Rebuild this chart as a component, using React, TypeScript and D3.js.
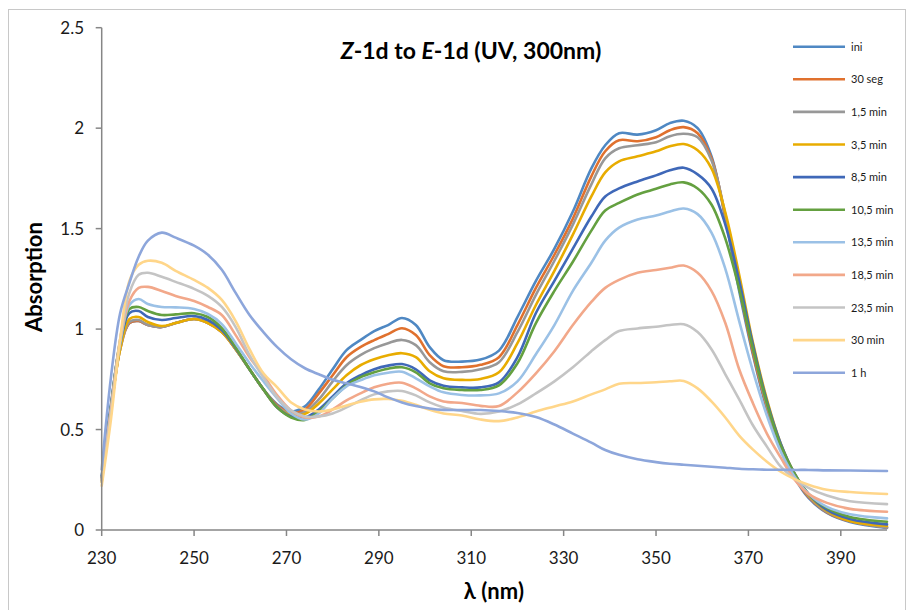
import React from "react";
import * as d3 from "d3";

const wavelengths = [230, 232, 234, 236, 238, 240, 243, 246, 250, 253, 256, 259, 262, 265, 268, 271, 274, 277, 280, 283, 286, 289, 292, 295, 298, 301, 304, 308, 312, 316, 320, 324, 328, 332, 336, 339, 342, 346, 350, 353, 356, 359, 362, 365, 368, 371, 374, 377, 380, 383, 387, 392, 400];

const seriesNames = ["ini", "30 seg", "1,5 min", "3,5 min", "8,5 min", "10,5 min", "13,5 min", "18,5 min", "23,5 min", "30 min", "1 h"];

const sIni = [0.27, 0.62, 0.92, 1.03, 1.04, 1.02, 1.01, 1.03, 1.05, 1.035, 0.99, 0.90, 0.80, 0.70, 0.625, 0.59, 0.615, 0.70, 0.80, 0.895, 0.945, 0.99, 1.02, 1.055, 1.02, 0.91, 0.845, 0.838, 0.848, 0.893, 1.06, 1.24, 1.40, 1.585, 1.80, 1.915, 1.975, 1.968, 1.99, 2.025, 2.037, 2.0, 1.86, 1.55, 1.19, 0.87, 0.60, 0.40, 0.26, 0.16, 0.085, 0.04, 0.01];
const s30seg = [0.25, 0.60, 0.90, 1.03, 1.04, 1.02, 1.01, 1.03, 1.05, 1.03, 0.985, 0.90, 0.80, 0.70, 0.62, 0.582, 0.60, 0.68, 0.77, 0.86, 0.91, 0.945, 0.975, 1.004, 0.97, 0.87, 0.815, 0.81, 0.822, 0.86, 1.02, 1.205, 1.37, 1.55, 1.76, 1.885, 1.94, 1.935, 1.955, 1.99, 2.005, 1.975, 1.85, 1.56, 1.21, 0.88, 0.61, 0.41, 0.265, 0.165, 0.088, 0.043, 0.013];
const s1_5 = [0.25, 0.60, 0.90, 1.035, 1.045, 1.02, 1.01, 1.03, 1.05, 1.03, 0.985, 0.90, 0.80, 0.70, 0.615, 0.577, 0.588, 0.65, 0.74, 0.82, 0.87, 0.905, 0.93, 0.946, 0.92, 0.835, 0.79, 0.787, 0.80, 0.835, 0.985, 1.17, 1.34, 1.52, 1.72, 1.85, 1.90, 1.915, 1.93, 1.96, 1.972, 1.955, 1.84, 1.57, 1.23, 0.90, 0.62, 0.415, 0.27, 0.17, 0.09, 0.045, 0.013];
const s3_5 = [0.24, 0.60, 0.90, 1.05, 1.06, 1.035, 1.015, 1.03, 1.05, 1.03, 0.985, 0.90, 0.80, 0.70, 0.61, 0.572, 0.578, 0.63, 0.70, 0.77, 0.82, 0.85, 0.87, 0.88, 0.86, 0.79, 0.755, 0.747, 0.752, 0.785, 0.93, 1.12, 1.29, 1.47, 1.66, 1.78, 1.835, 1.86, 1.885, 1.91, 1.921, 1.89, 1.80, 1.58, 1.27, 0.93, 0.65, 0.43, 0.28, 0.175, 0.095, 0.045, 0.02];
const s8_5 = [0.26, 0.62, 0.93, 1.08, 1.09, 1.06, 1.045, 1.055, 1.065, 1.045, 0.995, 0.905, 0.80, 0.70, 0.61, 0.565, 0.56, 0.60, 0.665, 0.73, 0.77, 0.80, 0.818, 0.826, 0.80, 0.745, 0.718, 0.71, 0.71, 0.735, 0.86, 1.08, 1.24, 1.40, 1.56, 1.66, 1.70, 1.735, 1.765, 1.79, 1.803, 1.77, 1.70, 1.52, 1.24, 0.92, 0.64, 0.43, 0.28, 0.18, 0.10, 0.055, 0.028];
const s10_5 = [0.25, 0.61, 0.94, 1.10, 1.11, 1.09, 1.07, 1.073, 1.079, 1.06, 1.005, 0.91, 0.80, 0.70, 0.61, 0.56, 0.548, 0.59, 0.655, 0.72, 0.76, 0.785, 0.803, 0.81, 0.785, 0.73, 0.705, 0.697, 0.697, 0.72, 0.83, 1.03, 1.19, 1.335, 1.49, 1.59, 1.628, 1.67, 1.698, 1.72, 1.73, 1.70, 1.62, 1.45, 1.20, 0.90, 0.63, 0.42, 0.28, 0.18, 0.11, 0.065, 0.041];
const s13_5 = [0.25, 0.60, 0.93, 1.12, 1.15, 1.125, 1.11, 1.108, 1.10, 1.075, 1.025, 0.93, 0.83, 0.74, 0.655, 0.58, 0.55, 0.58, 0.655, 0.715, 0.745, 0.77, 0.783, 0.788, 0.755, 0.715, 0.685, 0.672, 0.67, 0.68, 0.74, 0.875, 1.02, 1.19, 1.33, 1.44, 1.505, 1.545, 1.565, 1.585, 1.60, 1.572, 1.48, 1.30, 1.04, 0.79, 0.57, 0.39, 0.265, 0.18, 0.115, 0.078, 0.058];
const s18_5 = [0.25, 0.60, 0.95, 1.14, 1.205, 1.21, 1.19, 1.165, 1.14, 1.11, 1.07, 0.97, 0.86, 0.77, 0.67, 0.595, 0.56, 0.565, 0.60, 0.645, 0.68, 0.71, 0.728, 0.733, 0.705, 0.665, 0.64, 0.632, 0.618, 0.617, 0.685, 0.78, 0.89, 1.02, 1.135, 1.205, 1.245, 1.28, 1.294, 1.305, 1.316, 1.28, 1.19, 1.03, 0.80, 0.63, 0.48, 0.36, 0.25, 0.18, 0.135, 0.105, 0.091];
const s23_5 = [0.24, 0.58, 0.95, 1.18, 1.27, 1.28, 1.26, 1.235, 1.20, 1.165, 1.11, 1.01, 0.87, 0.76, 0.66, 0.595, 0.565, 0.565, 0.58, 0.61, 0.645, 0.675, 0.69, 0.692, 0.67, 0.635, 0.61, 0.592, 0.578, 0.59, 0.625, 0.68, 0.74, 0.81, 0.89, 0.945, 0.99, 1.003, 1.012, 1.02, 1.024, 0.985, 0.90, 0.775, 0.65, 0.52, 0.415, 0.315, 0.255, 0.21, 0.172, 0.143, 0.129];
const s30min = [0.22, 0.55, 0.95, 1.24, 1.32, 1.34, 1.33, 1.29, 1.245, 1.205, 1.145, 1.04, 0.90, 0.78, 0.71, 0.635, 0.60, 0.59, 0.60, 0.62, 0.638, 0.65, 0.652, 0.643, 0.623, 0.598, 0.58, 0.57, 0.55, 0.542, 0.56, 0.59, 0.615, 0.64, 0.675, 0.70, 0.728, 0.732, 0.735, 0.74, 0.742, 0.705, 0.64, 0.56, 0.47, 0.40, 0.34, 0.29, 0.253, 0.225, 0.20, 0.189, 0.179];
const s1h = [0.30, 0.76, 1.08, 1.23, 1.36, 1.44, 1.48, 1.455, 1.415, 1.37, 1.295, 1.18, 1.07, 0.985, 0.91, 0.85, 0.805, 0.775, 0.748, 0.73, 0.712, 0.69, 0.66, 0.635, 0.617, 0.605, 0.598, 0.597, 0.597, 0.592, 0.582, 0.562, 0.525, 0.48, 0.435, 0.398, 0.374, 0.352, 0.338, 0.330, 0.325, 0.32, 0.315, 0.31, 0.305, 0.302, 0.30, 0.30, 0.299, 0.299, 0.297, 0.296, 0.294];

const seriesValues = [sIni, s30seg, s1_5, s3_5, s8_5, s10_5, s13_5, s18_5, s23_5, s30min, s1h];
const seriesColors = ["#4F88C3", "#E0712E", "#989898", "#E8AC00", "#3F68B8", "#64A040", "#9BC1E6", "#F2A88A", "#C4C4C4", "#FFD68A", "#8DA6DB"];

const xTicks = [230, 250, 270, 290, 310, 330, 350, 370, 390];
const yTicks = [0, 0.5, 1, 1.5, 2, 2.5];
const yTickLabels = ["0", "0.5", "1", "1.5", "2", "2.5"];

const W = 913;
const H = 610;
const plot = { left: 101.7, right: 887, top: 27.7, bottom: 530 };
const font = "Lato, 'Open Sans', sans-serif";

export default function App() {
  const x = d3.scaleLinear().domain([230, 400]).range([plot.left, plot.right]);
  const y = d3.scaleLinear().domain([0, 2.5]).range([plot.bottom, plot.top]);
  const line = d3
    .line<number>()
    .x((_, i) => x(wavelengths[i]))
    .y((v) => y(v))
    .curve(d3.curveCatmullRom.alpha(0.5));

  const axisColor = "#868686";
  const legendX = 793;
  const legendY0 = 46.7;
  const legendStep = 32.6;

  return (
    <svg
      width={W}
      height={H}
      style={{ position: "absolute", left: 0, top: 0, background: "#fff" }}
    >
      <rect x={0} y={0} width={W} height={H} fill="#fff" />
      <rect x={8.5} y={9.5} width={897} height={640} fill="none" stroke="#c8c8c8" strokeWidth={1} />

      <g fill="none" strokeLinejoin="round" strokeLinecap="round">
        {seriesValues.map((vals, i) => (
          <path key={seriesNames[i]} d={line(vals) || ""} stroke={seriesColors[i]} strokeWidth={2.6} />
        ))}
      </g>

      <line x1={plot.left} x2={plot.left} y1={plot.top} y2={plot.bottom} stroke={axisColor} strokeWidth={1.5} />
      {yTicks.map((t, i) => (
        <g key={"y" + t}>
          <line x1={plot.left - 6} x2={plot.left} y1={y(t)} y2={y(t)} stroke={axisColor} strokeWidth={1.5} />
          <text x={84} y={y(t) + 6} textAnchor="end" fontFamily={font} fontSize={17} fill="#1a1a1a">
            {yTickLabels[i]}
          </text>
        </g>
      ))}

      <line x1={plot.left} x2={plot.right} y1={plot.bottom} y2={plot.bottom} stroke={axisColor} strokeWidth={1.5} />
      {xTicks.map((t) => (
        <g key={"x" + t}>
          <line x1={x(t)} x2={x(t)} y1={plot.bottom} y2={plot.bottom + 6} stroke={axisColor} strokeWidth={1.5} />
          <text x={x(t)} y={564} textAnchor="middle" fontFamily={font} fontSize={17} fill="#1a1a1a">
            {t}
          </text>
        </g>
      ))}

      <text x={471} y={59} textAnchor="middle" fontFamily={font} fontSize={23} fontWeight="bold" fill="#000">
        <tspan fontStyle="italic">Z</tspan>
        <tspan>-1d to </tspan>
        <tspan fontStyle="italic">E</tspan>
        <tspan>-1d (UV, 300nm)</tspan>
      </text>
      <text
        transform={`translate(42, 277) rotate(-90)`}
        textAnchor="middle"
        fontFamily={font}
        fontSize={22}
        fontWeight="bold"
        fill="#000"
      >
        Absorption
      </text>
      <text x={494} y={599} textAnchor="middle" fontFamily={font} fontSize={22} fontWeight="bold" fill="#000">
        λ (nm)
      </text>

      {seriesNames.map((name, i) => {
        const ly = legendY0 + i * legendStep;
        return (
          <g key={"lg" + name}>
            <line x1={legendX} x2={legendX + 52} y1={ly} y2={ly} stroke={seriesColors[i]} strokeWidth={2.6} />
            <text x={851} y={ly + 4} fontFamily={font} fontSize={11} fill="#1a1a1a">
              {name}
            </text>
          </g>
        );
      })}
    </svg>
  );
}
